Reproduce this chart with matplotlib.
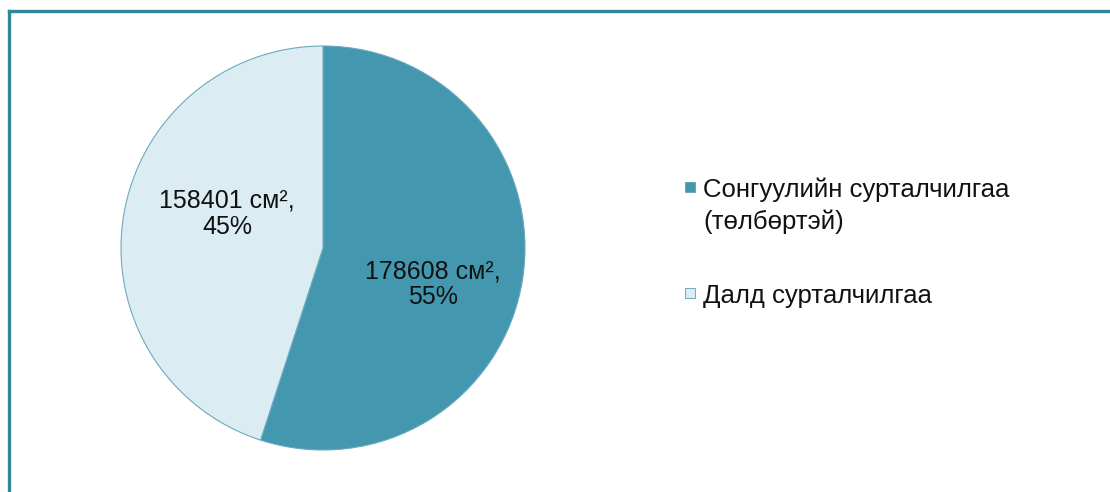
import matplotlib.pyplot as plt
from matplotlib.lines import Line2D
from matplotlib.patches import Rectangle

plt.rcParams["font.family"] = ["Liberation Sans", "DejaVu Sans"]

# Ad area by type, cm² and share of total
categories = ["Сонгуулийн сурталчилгаа\n(төлбөртэй)", "Далд сурталчилгаа"]
areas = [178608, 158401]
shares = [55, 45]
colors = ["#4397AF", "#DBEDF3"]

W, H = 1110, 492
fig = plt.figure(figsize=(W / 100, H / 100), dpi=100)

# outer frame: only top and left edges are visible
fig.add_artist(Line2D([8.5 / W, 1.0], [1 - 10.5 / H] * 2,
                      color="#31849B", linewidth=2.4))
fig.add_artist(Line2D([8.5 / W] * 2, [0.0, 1 - 10.5 / H],
                      color="#31849B", linewidth=2.4))

ax = fig.add_axes([121 / W, 42 / H, 404 / W, 404 / H])
wedges, _ = ax.pie(
    shares,
    colors=colors,
    startangle=90,
    counterclock=False,
    wedgeprops={"edgecolor": "#6AAABD", "linewidth": 0.8},
)
ax.set_xlim(-1, 1)
ax.set_ylim(-1, 1)
ax.set_aspect("equal")

label_xy = [(0.545, -0.18), (-0.475, 0.168)]
for (x, y), area, share in zip(label_xy, areas, shares):
    ax.text(x, y, f"{area} см²,\n{share}%", ha="center", va="center",
            fontsize=18, color="#111111", linespacing=1.12)

# legend: square swatch next to the first line of each entry
legend_top = [182, 288]
for top, label, color in zip(legend_top, categories, colors):
    fig.add_artist(Rectangle((685 / W, 1 - (top + 10) / H), 10 / W, 10 / H,
                             transform=fig.transFigure, facecolor=color,
                             edgecolor="#5E9FB3", linewidth=0.6))
    for i, line in enumerate(label.split("\n")):
        fig.text(703 / W, 1 - (top + 15 + 32 * i) / H, line, ha="left",
                 va="baseline", fontsize=18.5, color="#111111")

fig.savefig("out.png", dpi=100)
